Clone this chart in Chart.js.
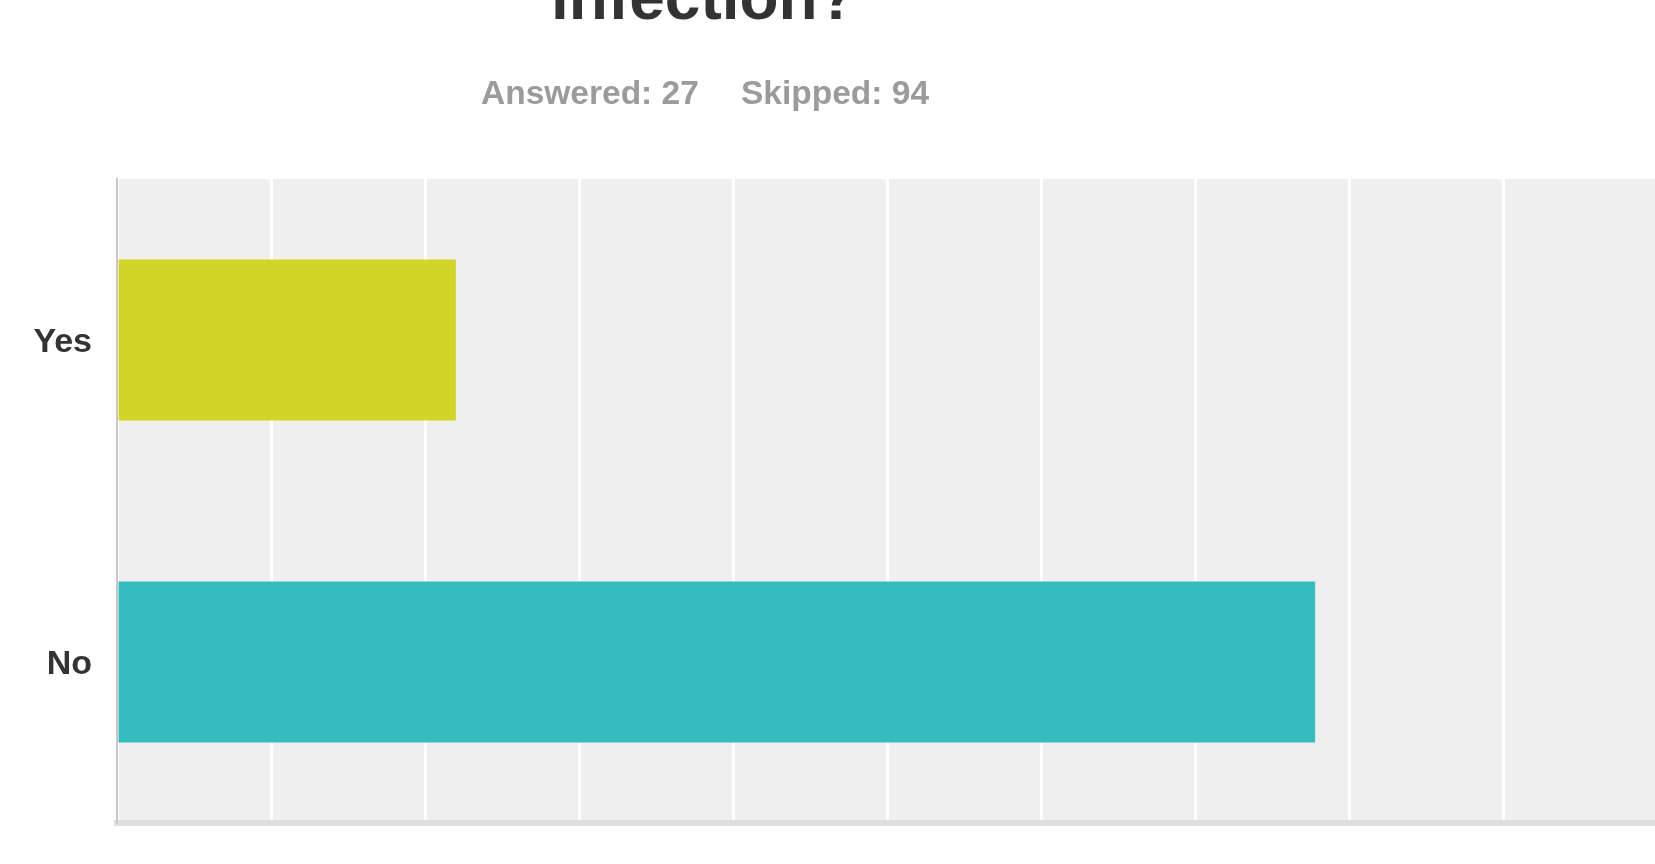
<!DOCTYPE html>
<html>
<head>
<meta charset="utf-8">
<script src="https://cdn.jsdelivr.net/npm/chart.js"></script>
<style>
  html, body { margin: 0; padding: 0; background: #fff; overflow: hidden; }
  #wrap { position: relative; width: 1655px; height: 864px; overflow: hidden; }
  #myChart { position: absolute; left: 0; top: 0; }
  .title {
    position: absolute; left: 551px; top: -35px; margin: 0;
    font: bold 64px "Liberation Sans", Arial, sans-serif; line-height: 1;
    color: #333; white-space: pre;
  }
  .stat {
    position: absolute; top: 76px;
    font: bold 33.5px "Liberation Sans", Arial, sans-serif; line-height: 1;
    color: #9b9b9b; white-space: pre;
  }
</style>
</head>
<body>
<div id="wrap">
  <canvas id="myChart" width="1658" height="864"></canvas>
  <h1 class="title">infection?</h1>
  <span class="stat" style="left:481px">Answered: 27</span>
  <span class="stat" style="left:741px">Skipped: 94</span>
</div>

<script>
  // answer choices and share of respondents (%)
  const categories = ['Yes', 'No'];
  const percents = [22.0, 77.8];
  const barColors = ['#d0d528', '#34bdbf'];

  // light grey plot background
  const plotBg = {
    id: 'plotBg',
    beforeDraw(chart) {
      const a = chart.chartArea;
      const ctx = chart.ctx;
      ctx.save();
      ctx.fillStyle = '#efefef';
      ctx.fillRect(a.left, a.top, a.right - a.left, a.bottom - a.top);
      ctx.restore();
    }
  };

  var ctx = document.getElementById('myChart').getContext('2d');
  var myChart = new Chart(ctx, {
    type: 'bar',
    data: {
      labels: categories,
      datasets: [{
        data: percents,
        backgroundColor: barColors,
        borderWidth: 0,
        barPercentage: 1,
        categoryPercentage: 0.5
      }]
    },
    options: {
      indexAxis: 'y',
      responsive: false,
      animation: false,
      layout: { padding: { top: 179, bottom: 41, left: 0, right: 1 } },
      plugins: {
        legend: { display: false },
        tooltip: { enabled: false }
      },
      scales: {
        x: {
          min: 0,
          max: 100,
          ticks: { display: false, stepSize: 10 },
          grid: { color: '#ffffff', lineWidth: 3, drawTicks: false },
          border: { color: '#dedede', width: 6 }
        },
        y: {
          z: 1,
          afterFit(scale) {
            scale.width = 117;
            scale.paddingTop = 0;
            scale.paddingBottom = 0;
          },
          ticks: {
            color: '#333',
            padding: 25,
            labelOffset: 3,
            font: { family: '"Liberation Sans", Arial, sans-serif', size: 34, weight: 'bold' }
          },
          grid: { display: false, drawTicks: false },
          border: { color: '#c8c8c8', width: 2 }
        }
      }
    },
    plugins: [plotBg]
  });
</script>
</body>
</html>
